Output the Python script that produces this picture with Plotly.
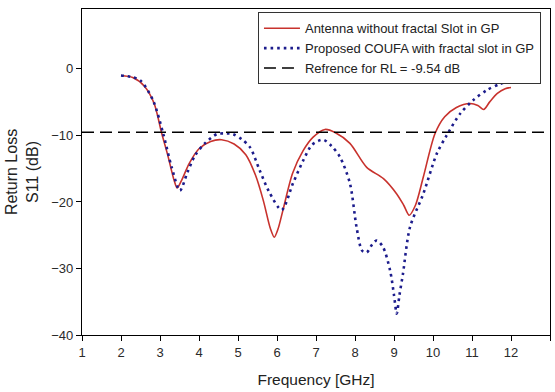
import plotly.graph_objects as go

# Return-loss curves (frequency in GHz, S11 in dB)
freq_plain = [2.0, 2.3, 2.6, 2.85, 3.04, 3.2, 3.35, 3.44, 3.55, 3.75, 4.0, 4.3, 4.58, 4.9,
              5.2, 5.45, 5.65, 5.83, 5.93, 6.03, 6.15, 6.4, 6.67, 6.92, 7.23, 7.5, 7.87,
              8.3, 8.73, 9.07, 9.25, 9.39, 9.55, 9.75, 10.05, 10.3, 10.6, 10.95, 11.15,
              11.3, 11.45, 11.65, 11.85, 12.0]
s11_plain = [-1.0, -1.3, -2.6, -5.2, -9.6, -13.0, -16.5, -17.9, -16.8, -14.2, -12.0, -10.9,
             -10.65, -11.3, -12.9, -16.0, -19.8, -24.0, -25.3, -24.0, -21.3, -15.7, -12.3,
             -10.3, -9.1, -9.6, -11.2, -14.8, -16.5, -18.8, -20.5, -22.0, -20.5, -16.3,
             -9.75, -7.2, -5.8, -5.2, -5.5, -6.1, -5.0, -3.7, -3.0, -2.8]

freq_fractal = [2.0, 2.25, 2.49, 2.82, 3.08, 3.3, 3.51, 3.7, 3.9, 4.15, 4.46, 4.7, 4.87, 5.1,
                5.31, 5.56, 5.8, 6.12, 6.41, 6.67, 6.9, 7.18, 7.4, 7.62, 7.87, 8.04, 8.18,
                8.3, 8.45, 8.56, 8.72, 8.9, 9.0, 9.07, 9.14, 9.23, 9.41, 9.75, 10.1, 10.35,
                10.7, 11.03, 11.38, 11.7, 11.95]
s11_fractal = [-1.0, -1.2, -1.7, -4.7, -9.7, -14.8, -18.3, -15.6, -13.0, -11.2, -9.8, -9.7,
               -9.8, -10.6, -11.8, -15.3, -18.5, -21.2, -17.2, -13.8, -11.4, -10.65, -11.6,
               -13.3, -17.2, -23.8, -27.3, -27.6, -26.3, -25.8, -26.8, -30.3, -34.0, -36.8,
               -34.0, -30.8, -23.8, -18.8, -12.7, -10.0, -6.7, -4.7, -3.2, -2.3, -1.8]

ref_freq = [1, 13]
ref_level = -9.54

x_ticks = [1, 2, 3, 4, 5, 6, 7, 8, 9, 10, 11, 12, 13]
y_ticks = [0, -10, -20, -30, -40]

FONT = "Liberation Sans, Arial, sans-serif"

fig = go.Figure()
fig.add_trace(go.Scatter(
    x=freq_plain, y=s11_plain, mode="lines",
    name="Antenna without fractal Slot in GP",
    line=dict(color="#c8322d", width=1.6, shape="spline", smoothing=0.8),
))
fig.add_trace(go.Scatter(
    x=freq_fractal, y=s11_fractal, mode="lines",
    name="Proposed COUFA with fractal slot in GP",
    line=dict(color="#1c1c8c", width=2.6, dash="2.6px,4px", shape="spline", smoothing=0.8),
))
fig.add_trace(go.Scatter(
    x=ref_freq, y=[ref_level, ref_level], mode="lines",
    name="Refrence for RL = -9.54 dB",
    line=dict(color="black", width=1.5, dash="12px,6px"),
))

axis_common = dict(
    showgrid=False, zeroline=False, showline=True, linecolor="black", linewidth=1.2,
    mirror=True, ticks="outside", ticklen=5, tickwidth=1.2, tickcolor="black",
    tickfont=dict(family=FONT, size=13, color="#2a2a2a"),
)

fig.update_layout(
    width=555, height=392,
    margin=dict(l=82, r=5, t=9, b=57),
    paper_bgcolor="white", plot_bgcolor="white",
    font=dict(family=FONT, size=13, color="#222"),
    showlegend=True,
    legend=dict(
        x=0.376, y=0.99, xanchor="left", yanchor="top",
        bgcolor="white", bordercolor="#333", borderwidth=1,
        font=dict(family=FONT, size=13, color="#222"),
        tracegroupgap=0, itemwidth=36,
    ),
    xaxis=dict(range=[1, 13], tickvals=x_ticks,
               title=dict(text="Frequency [GHz]", font=dict(family=FONT, size=15.5), standoff=15),
               **axis_common),
    yaxis=dict(range=[-40, 9], tickvals=y_ticks,
               title=dict(text="Return Loss<br>S11 (dB)", font=dict(family=FONT, size=16), standoff=8),
               **axis_common),
)

fig.write_html("out.html")
